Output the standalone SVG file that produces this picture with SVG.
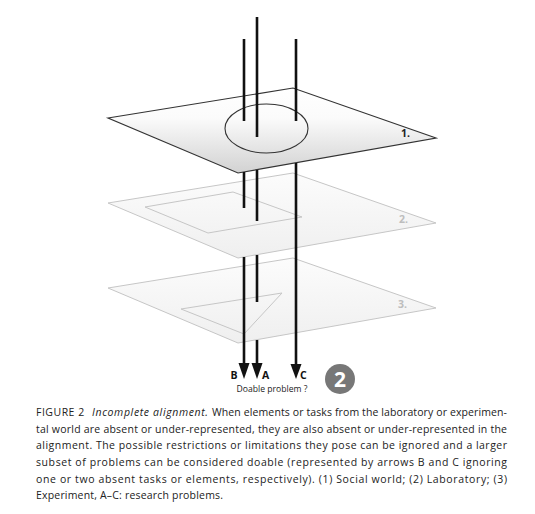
<svg xmlns="http://www.w3.org/2000/svg" width="535" height="514" viewBox="0 0 535 514">
<style>
.ln{stroke:#111;stroke-width:2.6;fill:none}
.ah{fill:#111}
.pl1{stroke:#333;stroke-width:1.2;fill:url(#g1)}
.plf{stroke:#c6c6c6;stroke-width:1;fill:url(#g2)}
.inner{stroke:#c6c6c6;stroke-width:1;fill:none}
.num{font-family:"Open Sans","Noto Sans",sans-serif;font-weight:bold;font-size:10.5px}
.lab{font-family:"Open Sans","Noto Sans",sans-serif;font-weight:bold;font-size:10.5px;fill:#111}
.cap{font-family:"Open Sans","Noto Sans",sans-serif;font-size:10.5px;fill:#222}
</style>
<defs>
<linearGradient id="g1" x1="0" y1="0" x2="0" y2="1">
<stop offset="0" stop-color="#ffffff"/>
<stop offset="0.35" stop-color="#fbfbfb"/>
<stop offset="1" stop-color="#d2d2d2"/>
</linearGradient>
<linearGradient id="g2" x1="0" y1="0" x2="0" y2="1">
<stop offset="0" stop-color="#fcfcfc"/>
<stop offset="1" stop-color="#efefef"/>
</linearGradient>
</defs>
<rect width="535" height="514" fill="#ffffff"/>

<g id="plane3">
<polygon class="plf" points="108,288 293,258 436,308 238,343"/>
<polygon class="inner" points="181,309 282,293 244,334"/>
<text class="num" x="398" y="308" fill="#bdbdbd">3.</text>
</g>

<g id="plane2">
<polygon class="plf" points="108,203 293,173 436,223 238,258"/>
<polygon class="inner" points="145,207 233,192 302,217 208,233"/>
<text class="num" x="399" y="223" fill="#bdbdbd">2.</text>
</g>

<g id="plane1">
<polygon class="pl1" points="108,118 293,88 436,138 238,173"/>
<ellipse cx="266.5" cy="128.5" rx="41.5" ry="24.5" fill="none" stroke="#333" stroke-width="1.1"/>
<text class="num" x="401" y="137" fill="#222">1.</text>
</g>

<g id="connectors">
<line class="ln" x1="244" y1="39" x2="244" y2="121"/>
<line class="ln" x1="257" y1="17" x2="257" y2="137"/>
<line class="ln" x1="296" y1="39" x2="296" y2="121"/>
<line class="ln" x1="244" y1="172" x2="244" y2="208"/>
<line class="ln" x1="244" y1="257" x2="244" y2="366"/>
<line class="ln" x1="257" y1="170" x2="257" y2="221"/>
<line class="ln" x1="257" y1="255" x2="257" y2="302"/>
<line class="ln" x1="257" y1="340" x2="257" y2="366"/>
<line class="ln" x1="296" y1="163" x2="296" y2="366"/>
<polygon class="ah" points="238.5,363 249.5,363 244,379"/>
<polygon class="ah" points="251.5,363 262.5,363 257,379"/>
<polygon class="ah" points="290.5,364 301.5,364 296,379"/>
</g>

<g id="labels">
<text class="lab" x="230.5" y="379">B</text>
<text class="lab" x="262" y="379">A</text>
<text class="lab" x="300" y="379">C</text>
<text x="272" y="392" text-anchor="middle" font-family="'Open Sans','Noto Sans',sans-serif" font-size="8.6" fill="#222">Doable problem ?</text>
</g>

<g id="badge">
<circle cx="340" cy="379" r="15" fill="#777777"/>
<text x="340" y="386.5" text-anchor="middle" font-family="'Open Sans','Noto Sans',sans-serif" font-weight="bold" font-size="21" fill="#ffffff">2</text>
</g>

<g id="caption">
<text class="cap" x="36" y="416" font-size="7.8" fill="#333" letter-spacing="0.5">FIGURE 2</text>
<text class="cap" x="92" y="416" font-style="italic" textLength="116" lengthAdjust="spacing">Incomplete alignment.</text>
<text class="cap" x="212" y="416" textLength="295" lengthAdjust="spacing">When elements or tasks from the laboratory or experimen-</text>
<text class="cap" x="36" y="432.7" textLength="471" lengthAdjust="spacing">tal world are absent or under-represented, they are also absent or under-represented in the</text>
<text class="cap" x="36" y="449.3" textLength="471" lengthAdjust="spacing">alignment. The possible restrictions or limitations they pose can be ignored and a larger</text>
<text class="cap" x="36" y="466" textLength="471" lengthAdjust="spacing">subset of problems can be considered doable (represented by arrows B and C ignoring</text>
<text class="cap" x="36" y="482.7" textLength="471" lengthAdjust="spacing">one or two absent tasks or elements, respectively). (1) Social world; (2) Laboratory; (3)</text>
<text class="cap" x="36" y="499.3" textLength="187" lengthAdjust="spacing">Experiment, A–C: research problems.</text>
</g>
</svg>
